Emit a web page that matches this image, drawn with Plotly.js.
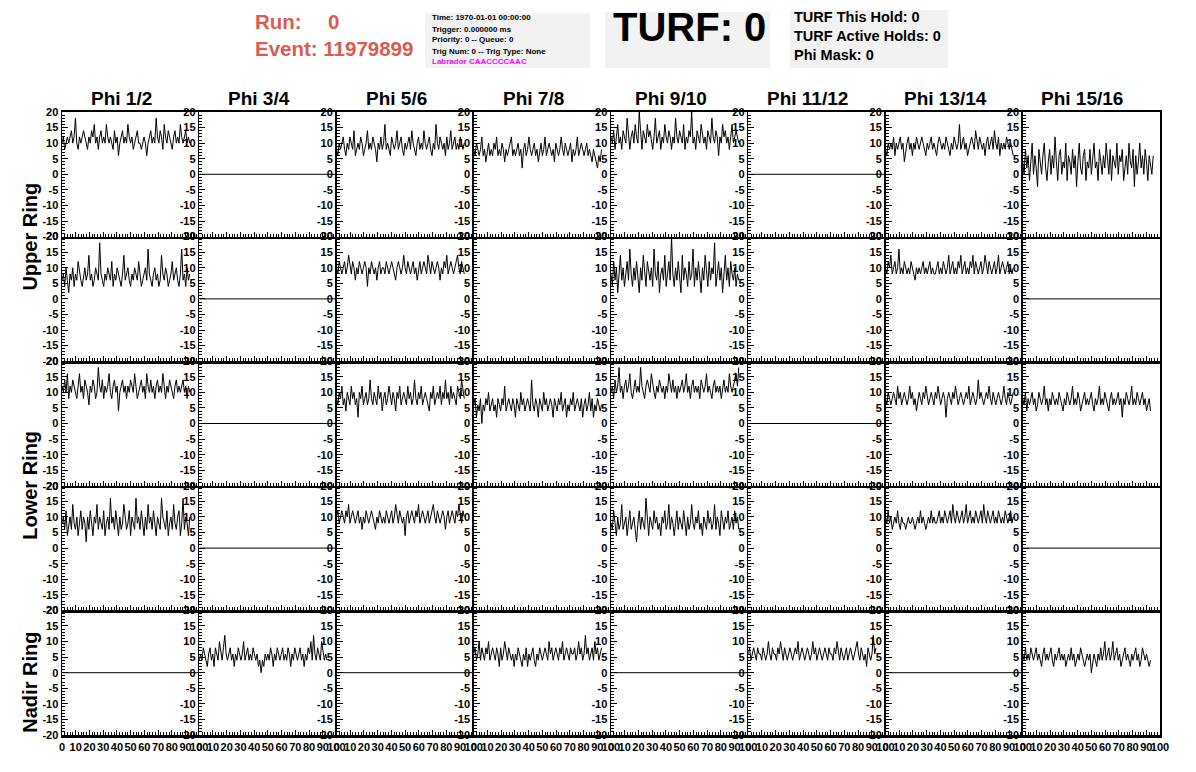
<!DOCTYPE html>
<html>
<head>
<meta charset="utf-8">
<script src="https://cdn.plot.ly/plotly-3.0.1.min.js"></script>
<style>html,body{margin:0;padding:0;background:#fff;}#chart{width:1196px;height:772px;}</style>
</head>
<body>
<div id="chart"></div>
<script>
// ---------------- DATA ----------------
const phiLabels = ['Phi 1/2','Phi 3/4','Phi 5/6','Phi 7/8','Phi 9/10','Phi 11/12','Phi 13/14','Phi 15/16'];
const ringLabels = ['Upper Ring','Lower Ring','Nadir Ring'];
const xTickVals = [0,10,20,30,40,50,60,70,80,90,100];
const xTickText = ['0','10','20','30','40','50','60','70','80','90','100'];
const yTickVals = [-20,-15,-10,-5,0,5,10,15,20];
const yTickText = ['-20','-15','-10','-5','0','5','10','15','20'];
const DT = 0.98; // sample spacing
const flatV = [0, 0];
const flatT = [0, 100];

const r1c1 = [10,12,8,10,12,10,12,14,10,12,18,10,8,12,10,12,14,12,10,8,12,10,14,12,16,10,12,8,12,14,10,12,10,16,12,10,12,10,8,14,10,12,6,10,12,14,10,12,10,16,12,10,12,8,10,12,14,10,10,8,10,12,10,6,10,12,14,10,12,10,18,12,10,14,12,8,16,12,10,14,12,10,8,12,14,10,12,10,16,12,10,12,14,10,12,10];
const r1c3 = [8,6,10,8,10,12,8,6,10,8,12,10,8,14,6,8,10,8,12,10,6,8,10,14,8,10,8,12,10,8,4,10,8,12,8,10,16,8,10,8,6,12,10,8,10,14,8,10,12,8,6,10,8,10,12,8,14,10,8,6,10,12,8,10,8,14,10,8,10,12,8,6,10,8,16,10,8,12,10,8,10,6,12,8,10,14,8,10,12,8,10,8,12,10,8,10];
const r1c4 = [8,6,10,8,6,8,12,6,8,4,8,10,6,8,6,10,8,12,6,8,6,10,8,4,8,6,8,10,12,6,8,6,8,10,6,8,2,8,10,6,8,12,8,6,8,10,6,8,4,8,10,6,8,12,6,8,10,8,6,8,4,10,8,6,8,12,8,6,10,8,6,8,10,4,8,6,8,12,6,8,10,8,6,8,10,6,8,6,4,8,6,4,2,6,4,8];
const r1c5 = [12,10,14,8,12,16,10,12,8,14,12,10,18,12,8,12,14,10,16,12,10,20,12,8,14,12,10,16,12,14,10,8,12,18,10,12,14,8,12,10,16,12,10,14,12,8,12,10,18,12,10,14,12,10,16,8,12,10,14,12,20,10,12,8,14,12,10,16,12,10,12,8,14,12,10,18,12,10,14,12,6,12,10,16,12,14,10,12,8,12,16,10,12,14,12,10];
const r1c7 = [8,6,10,8,10,8,12,6,10,8,10,12,8,10,4,8,10,12,8,10,6,10,8,12,10,8,10,12,10,8,6,10,8,10,12,8,10,8,6,10,12,10,8,10,8,12,10,8,6,10,8,12,10,8,10,16,8,10,12,8,10,6,8,10,12,10,8,14,10,8,12,10,8,10,6,10,12,8,10,12,8,14,10,8,12,6,10,8,10,8,12,10,8,10,8,6];
const r1c8 = [4,0,8,2,6,-2,4,10,0,6,2,-4,8,4,0,6,10,2,-2,4,8,0,6,2,12,4,-2,6,8,0,4,2,10,-2,6,4,0,8,2,6,-4,4,10,2,0,6,8,-2,4,2,8,0,6,10,2,4,-2,8,4,0,6,2,10,4,0,8,-2,6,4,2,10,0,6,4,8,-2,2,6,0,10,4,2,8,-4,6,0,4,10,2,6,0,8,4,-2,6,2,0,6];

const r2c1 = [6,8,4,10,6,2,8,6,10,4,8,6,12,8,6,4,8,10,6,8,14,6,8,4,6,10,8,6,18,8,6,4,8,6,10,8,6,12,4,8,6,10,8,6,4,8,14,6,8,10,6,4,8,6,10,8,6,12,8,4,6,8,10,6,16,8,6,4,8,10,6,8,4,6,14,8,6,10,8,4,6,8,12,6,8,10,6,4,8,16,6,8,4,10,6,8];
const r2c3 = [10,8,12,10,8,10,12,8,10,14,10,8,12,10,6,10,8,12,10,8,10,12,10,4,10,8,12,10,8,10,6,10,12,8,10,10,8,12,10,8,10,12,10,8,6,10,12,10,8,10,14,10,8,12,10,8,10,12,8,10,6,10,12,8,10,12,10,8,14,10,8,12,10,8,10,12,10,6,10,8,12,10,14,8,10,12,10,8,10,12,14,10,8,12,10,8];
const r2c5 = [8,4,12,6,10,2,8,14,6,10,4,8,12,6,16,8,4,10,6,12,8,2,10,6,14,8,4,12,8,6,10,4,16,8,6,12,2,8,10,6,14,4,8,12,6,20,8,4,10,6,12,8,2,14,6,10,8,4,12,6,8,16,4,10,6,12,8,2,10,6,14,8,4,12,6,10,8,18,4,8,12,6,10,2,8,14,6,10,4,12,8,6,10,4,8,6];
const r2c7 = [10,8,12,10,14,8,10,12,8,10,16,8,10,8,12,10,8,10,8,12,10,8,6,10,8,10,8,10,12,8,10,8,10,12,8,10,8,8,10,12,8,10,8,12,10,8,10,14,8,10,12,8,10,8,12,10,14,8,10,12,8,10,8,12,10,14,8,12,10,8,10,12,8,10,14,10,8,12,10,8,10,12,8,10,14,8,10,12,10,8,10,12,8,10,8,10];

const r3c1 = [12,10,14,10,16,8,12,10,14,12,10,8,12,16,10,12,8,14,12,10,6,12,10,14,12,8,10,18,12,10,14,8,12,10,12,16,10,8,12,14,10,12,4,10,12,14,10,12,8,12,10,14,12,10,16,12,8,10,12,14,10,12,8,16,12,10,14,10,12,8,12,14,10,12,10,16,12,8,12,10,14,12,10,8,12,14,10,12,10,12,14,10,12,8,12,10];
const r3c3 = [8,6,10,8,12,6,8,4,10,8,6,12,8,10,6,8,2,10,8,12,6,8,10,6,8,14,8,6,10,8,6,12,8,10,4,8,10,6,8,12,8,6,10,8,4,10,8,12,6,8,10,8,6,12,8,10,6,8,14,8,6,10,8,12,6,8,10,8,6,4,10,8,12,6,8,10,8,12,6,10,8,14,8,10,6,12,8,10,8,6,12,10,8,14,10,8];
const r3c4 = [6,8,2,6,4,8,0,6,4,8,6,10,4,6,8,4,6,2,8,6,4,8,6,12,4,6,8,6,4,8,6,2,8,6,4,10,6,8,4,6,8,6,4,14,6,4,8,6,2,8,6,4,10,6,8,4,6,8,6,2,8,6,4,8,6,10,4,6,8,2,6,4,8,6,10,4,6,8,6,4,8,2,6,8,4,6,10,4,8,2,6,4,8,6,4,6];
const r3c5 = [10,12,8,14,10,12,18,10,12,8,12,14,10,12,16,10,8,12,14,10,12,10,18,12,10,8,12,14,12,10,16,12,10,8,12,10,14,12,10,12,8,12,10,16,12,10,14,10,12,8,12,10,12,14,10,12,16,10,12,8,12,14,10,12,10,12,8,14,12,10,12,16,10,12,10,8,12,14,10,12,10,12,8,12,14,10,12,10,16,12,10,12,14,16,12,18];
const r3c7 = [8,6,10,8,6,8,10,8,6,12,8,10,6,8,10,8,6,8,12,8,10,6,8,4,8,10,8,6,10,8,12,8,6,8,10,8,6,10,8,12,8,6,8,10,8,2,8,10,8,6,10,8,12,8,6,8,10,8,6,8,10,8,12,6,8,10,8,6,8,14,8,10,8,6,8,10,8,12,8,6,10,8,6,8,10,8,6,8,12,8,6,10,8,6,8,10];
const r3c8 = [8,6,10,4,8,6,8,10,6,8,4,6,10,8,6,8,12,6,8,4,8,6,10,8,6,8,6,10,8,6,4,8,6,10,8,6,8,12,6,8,6,10,8,4,6,8,10,6,8,6,8,10,6,4,8,6,8,12,6,8,6,10,8,6,4,8,10,6,8,6,8,10,6,8,2,8,6,10,8,6,8,12,6,8,6,10,8,6,8,10,6,8,4,6,8,4];

const r4c1 = [8,10,6,12,4,8,10,6,14,8,6,10,4,8,12,6,10,8,2,10,6,12,8,4,10,8,14,6,10,8,6,12,4,8,10,6,16,8,10,6,12,8,4,10,6,8,14,10,6,8,12,4,10,8,6,16,8,10,6,12,8,4,10,6,14,8,10,6,12,8,4,10,8,6,16,10,8,6,12,4,8,10,6,14,8,6,10,12,4,8,16,6,10,8,4,10];
const r4c3 = [10,12,8,10,12,10,8,12,10,14,8,10,12,10,8,10,12,8,10,6,10,8,12,10,8,10,12,10,8,6,10,8,12,10,8,10,8,12,10,8,10,12,8,10,14,10,8,12,10,8,10,4,10,12,8,10,12,10,8,12,10,14,8,10,12,10,8,10,12,8,10,12,14,10,8,12,10,8,10,12,10,6,10,12,8,10,12,10,8,12,10,14,10,8,12,10];
const r4c5 = [8,6,12,8,4,10,6,8,14,6,8,10,4,8,12,6,8,10,6,2,8,12,6,10,8,6,16,8,4,10,8,6,12,8,10,6,8,4,10,8,12,6,8,14,6,10,8,4,8,12,6,10,8,6,12,8,4,10,6,8,14,8,6,10,8,12,6,8,4,10,8,6,12,8,10,6,8,14,6,10,8,4,12,8,6,10,8,12,6,8,10,6,12,8,10,6];
const r4c7 = [10,8,12,8,10,6,8,10,8,12,8,6,10,8,8,6,8,10,8,8,10,8,6,8,10,8,12,8,10,8,6,8,10,8,12,8,10,8,8,10,12,8,10,8,12,10,8,10,12,8,14,10,8,12,10,8,10,12,8,10,14,8,10,12,8,10,8,12,10,8,10,12,8,14,10,8,12,10,8,10,12,8,10,8,12,10,8,10,8,12,10,8,10,12,8,10];

const r5c2 = [4,6,4,8,6,4,2,6,8,4,6,2,8,6,4,10,6,4,8,12,6,4,6,8,4,6,2,6,4,8,6,4,6,10,4,6,8,4,6,4,8,6,4,6,2,4,0,4,2,6,4,6,4,8,6,2,6,4,8,6,4,6,8,4,6,4,8,6,2,6,4,8,6,4,6,8,4,6,2,6,4,8,6,10,4,12,6,4,8,6,4,10,6,4,6,4];
const r5c4 = [6,8,4,6,10,4,8,6,4,8,6,10,4,6,8,6,4,8,6,2,8,4,6,10,6,4,8,6,4,6,2,6,4,8,6,4,2,6,4,8,2,6,4,6,8,4,2,6,4,8,6,4,6,8,6,4,10,6,8,4,6,8,6,4,8,6,10,4,6,8,6,4,8,6,6,8,4,6,10,6,8,4,6,12,6,8,4,6,8,4,10,6,8,4,6,8];
const r5c6 = [6,8,4,6,8,6,4,8,6,6,4,8,6,4,6,10,6,4,8,6,6,4,8,6,10,6,4,8,6,4,6,8,6,4,6,8,6,10,4,6,8,6,4,6,8,6,4,6,10,6,8,4,6,8,6,4,6,8,6,4,8,6,6,4,8,6,10,6,4,8,6,4,6,8,4,6,8,6,4,6,8,10,6,4,8,6,4,6,2,8,6,4,6,12,6,8];
const r5c8 = [6,4,8,4,6,4,8,6,4,6,8,4,6,4,2,6,8,4,6,4,6,8,4,2,6,4,6,8,4,6,4,6,2,4,6,4,8,4,6,2,4,6,4,8,6,4,2,4,6,4,6,0,4,6,4,2,6,4,8,4,6,10,4,6,8,4,6,10,4,6,8,4,6,2,4,6,8,4,6,4,2,6,4,6,8,4,6,2,4,8,6,4,6,4,2,4];

// which waveform is in each pad: array, 'flat' (all-zero channel) or null (no channel)
const panels = [
  [r1c1, 'flat', r1c3, r1c4, r1c5, 'flat', r1c7, r1c8],
  [r2c1, 'flat', r2c3, null, r2c5, null, r2c7, 'flat'],
  [r3c1, 'flat', r3c3, r3c4, r3c5, 'flat', r3c7, r3c8],
  [r4c1, 'flat', r4c3, null, r4c5, null, r4c7, 'flat'],
  ['flat', r5c2, 'flat', r5c4, 'flat', r5c6, 'flat', r5c8]
];

// ---------------- LAYOUT ----------------
const W = 1196, H = 772;
const PX = p => p / W;
const PY = p => 1 - p / H;
const FONT = 'Liberation Sans, Arial, Helvetica, sans-serif';
const LEFT = 62, RIGHT = 1160, TOP = 112, BOTTOM = 735;
const NC = 8, NR = 5;
const cw = (RIGHT - LEFT) / NC, rh = (BOTTOM - TOP) / NR;

const traces = [];
const layout = {
  width: W, height: H,
  margin: {l: 0, r: 0, t: 0, b: 0},
  paper_bgcolor: '#fff', plot_bgcolor: '#fff',
  showlegend: false,
  annotations: [], shapes: []
};

const tickFont = {family: FONT, size: 11, color: '#000', weight: 'bold'};

for (let r = 0; r < NR; r++) {
  for (let c = 0; c < NC; c++) {
    const k = r * NC + c + 1;
    const s = k === 1 ? '' : String(k);
    const x0 = LEFT + c * cw, x1 = x0 + cw;
    const yTop = TOP + r * rh, yBot = yTop + rh;
    layout['xaxis' + s] = {
      domain: [PX(x0), PX(x1)], anchor: 'y' + s,
      range: [0, 100], tickmode: 'array', tickvals: xTickVals, ticktext: xTickText,
      showline: true, linewidth: 2.5, linecolor: '#000', mirror: r === 0,
      ticks: 'inside', ticklen: 5, tickwidth: 1, tickcolor: '#000',
      minor: {dtick: 2, tick0: 0, ticks: 'inside', ticklen: 3, tickwidth: 1, tickcolor: '#000', showgrid: false},
      showticklabels: r === NR - 1, tickangle: 0, tickfont: tickFont,
      showgrid: false, zeroline: false, fixedrange: true
    };
    layout['yaxis' + s] = {
      domain: [PY(yBot), PY(yTop)], anchor: 'x' + s,
      range: [-20, 20], tickmode: 'array', tickvals: yTickVals, ticktext: yTickText,
      showline: true, linewidth: 1.5, linecolor: '#000', mirror: c === NC - 1,
      ticks: 'inside', ticklen: 6, tickwidth: 1, tickcolor: '#000',
      minor: {dtick: 1, tick0: 0, ticks: 'inside', ticklen: 3, tickwidth: 1, tickcolor: '#000', showgrid: false},
      showticklabels: true, tickfont: tickFont,
      showgrid: false, zeroline: false, fixedrange: true
    };
    const p = panels[r][c];
    let tx = [], vy = [];
    if (p === 'flat') { tx = flatT; vy = flatV; }
    else if (Array.isArray(p)) { vy = p; tx = p.map((_, i) => i * DT); }
    traces.push({
      type: 'scatter', mode: 'lines', x: tx, y: vy,
      xaxis: 'x' + s, yaxis: 'y' + s,
      line: {color: '#000', width: 1}, hoverinfo: 'skip'
    });
  }
}

// column headers
phiLabels.forEach((t, c) => {
  layout.annotations.push({
    text: t, xref: 'paper', yref: 'paper', showarrow: false,
    x: PX(LEFT + c * cw + cw / 2 - 9), y: PY(98), xanchor: 'center', yanchor: 'middle',
    font: {family: FONT, size: 19, color: '#000', weight: 'bold'}
  });
});
// ring labels
const ringCenters = [TOP + rh, TOP + 3 * rh, TOP + 4.5 * rh + 10];
ringLabels.forEach((t, i) => {
  layout.annotations.push({
    text: t, xref: 'paper', yref: 'paper', showarrow: false, textangle: -90,
    x: PX(30), y: PY(ringCenters[i]), xanchor: 'center', yanchor: 'middle',
    font: {family: FONT, size: 20, color: '#000', weight: 'bold'}
  });
});

// header boxes
const boxes = [[425, 13, 590, 68], [605, 12, 770, 68], [790, 10, 948, 68]];
boxes.forEach(b => layout.shapes.push({
  type: 'rect', xref: 'paper', yref: 'paper', layer: 'below',
  x0: PX(b[0]), x1: PX(b[2]), y0: PY(b[3]), y1: PY(b[1]),
  fillcolor: '#f2f2f2', line: {width: 0}
}));

const RED = '#dc5a50';
function addText(text, x, y, size, color, anchor) {
  layout.annotations.push({
    text: text, xref: 'paper', yref: 'paper', showarrow: false,
    x: PX(x), y: PY(y), xanchor: anchor || 'left', yanchor: 'middle',
    font: {family: FONT, size: size, color: color, weight: 'bold'}
  });
}
addText('Run:', 253, 22, 20.5, RED);
addText('0', 326, 22, 20.5, RED);
addText('Event: 11979899', 253, 48, 20.5, RED);

const infoLines = ['Time: 1970-01-01 00:00:00', 'Trigger: 0.000000 ms', 'Priority: 0 -- Queue: 0', 'Trig Num: 0 -- Trig Type: None'];
infoLines.forEach((t, i) => addText(t, 430, 18 + i * 11, 8, '#000'));
addText('Labrador CAACCCCAAC', 430, 61, 8, '#ff00ff');

addText('TURF: 0', 690, 27, 40, '#000', 'center');

const turfLines = ['TURF This Hold: 0', 'TURF Active Holds: 0', 'Phi Mask: 0'];
turfLines.forEach((t, i) => addText(t, 792, 17 + i * 19, 14.5, '#000'));

Plotly.newPlot('chart', traces, layout, {displayModeBar: false, staticPlot: true});
</script>
</body>
</html>
